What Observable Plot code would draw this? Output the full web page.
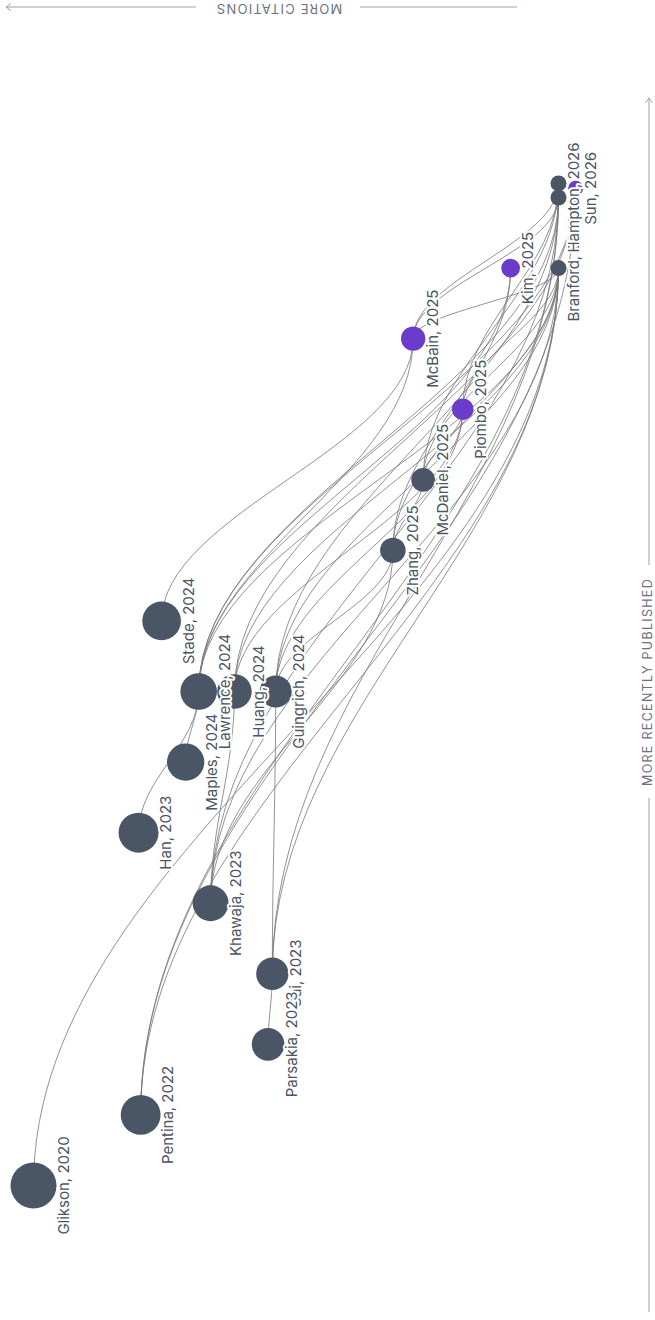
<!DOCTYPE html>
<html><head><meta charset="utf-8">
<script src="https://cdn.jsdelivr.net/npm/d3@7"></script>
<script src="https://cdn.jsdelivr.net/npm/@observablehq/plot@0.6"></script>
<style>
html,body{margin:0;padding:0;background:#fff;}
#chart{position:relative;width:655px;height:1320px;overflow:hidden;}
</style></head><body><div id="chart"></div>
<script>
// ---- data ----
const ids       = ["glikson","pentina","cai","parsakia","khawaja","han","maples","lawrence","huang","guingrich","stade","zhang","mcdaniel","piombo","mcbain","kim","branford","hampton","other26","sun"];
const authors   = ["Glikson","Pentina","Cai","Parsakia","Khawaja","Han","Maples","Lawrence","Huang","Guingrich","Stade","Zhang","McDaniel","Piombo","McBain","Kim","Branford","Hampton","","Sun"];
const years     = [2020,2022,2023,2023,2023,2023,2024,2024,2024,2024,2024,2025,2025,2025,2025,2025,2026,2026,2026,2026];
const pubOrder  = [0,1,3,2,4,5,6,7,7,7,8,9,10,11,12,13,13,14,14.2,14.13];
const citations = [2000,424,63,67,154,437,221,183,109,60,313,11,7.1,4,8.2,2,1,1,1,0.78];
const highlight = [0,0,0,0,0,0,0,0,0,0,0,0,0,1,1,1,0,0,0,1];
const edgeFrom  = ["parsakia","han","maples","khawaja","cai","stade","lawrence","guingrich","khawaja","zhang","huang","guingrich","mcdaniel","lawrence","zhang",
                   "glikson","pentina","pentina","pentina","cai","khawaja","lawrence","lawrence","huang","huang","guingrich","guingrich","zhang","mcdaniel","mcdaniel","piombo","piombo","mcbain","mcbain","mcbain","lawrence","khawaja","cai"];
const edgeTo    = ["cai","lawrence","lawrence","huang","guingrich","mcbain","mcbain","zhang","zhang","mcdaniel","piombo","piombo","piombo","kim","kim",
                   "branford","branford","hampton","sun","branford","branford","branford","hampton","branford","sun","branford","hampton","branford","branford","other26","branford","other26","branford","hampton","other26","sun","hampton","hampton"];

// ---- tables built from arrays ----
const nodes = ids.map((id, i) => ({
  id, label: authors[i] ? `${authors[i]}, ${years[i]}` : "",
  order: pubOrder[i], citations: citations[i], hl: highlight[i]
}));
const byId = new Map(nodes.map(d => [d.id, d]));
const edges = edgeFrom.map((s, i) => ({source: byId.get(s), target: byId.get(edgeTo[i])}));

// S-shaped link: vertical tangent at both ends
function sCurve(k) {
  return (context) => {
    let pts = [];
    return {
      areaStart() {}, areaEnd() {},
      lineStart() { pts = []; },
      point(x, y) { pts.push([x, y]); },
      lineEnd() {
        const [a, b] = pts;
        const dy = b[1] - a[1];
        context.moveTo(a[0], a[1]);
        context.bezierCurveTo(a[0], a[1] + k * dy, b[0], b[1] - k * dy, b[0], b[1]);
      }
    };
  };
}

const dark = "#4a5565", purple = "#6b3bc9";

const chart = Plot.plot({
  width: 655, height: 1320,
  marginLeft: 33, marginRight: 97, marginTop: 197, marginBottom: 135,
  x: {type: "log", domain: [2000, 1], axis: null},
  y: {domain: [0, 14], axis: null},
  r: {type: "log", domain: [1, 2000], range: [8, 23]},
  style: {fontFamily: "Inter, 'Noto Sans', sans-serif", background: "white"},
  marks: [
    Plot.link(edges, {
      x1: d => d.source.citations, y1: d => d.source.order,
      x2: d => d.target.citations, y2: d => d.target.order,
      curve: sCurve(0.38), stroke: "#777", strokeWidth: 0.85, strokeOpacity: 0.95
    }),
    Plot.dot(nodes, {x: "citations", y: "order", r: "citations", fill: d => d.hl ? purple : dark, stroke: "none"}),
    Plot.text(nodes, {
      x: "citations", y: "order", text: "label", rotate: -90,
      lineAnchor: "top", textAnchor: "middle", fontSize: 15, fill: "#4b5563",
      stroke: "white", strokeWidth: 4, paintOrder: "stroke",
      render(index, scales, values, dimensions, context, next) {
        const X = Float64Array.from(values.x, (x, i) => x + scales.r(nodes[i].citations) + 2);
        return next(index, scales, {...values, x: X}, dimensions, context);
      }
    })
  ]
});

document.getElementById("chart").append(chart);

// ---- axis annotations (rotated chart frame) ----
const svg = d3.select(chart);
const axisColor = "#98a3b3", axisText = "#6b7280";
const ann = svg.append("g").attr("fill", "none").attr("stroke", axisColor).attr("stroke-width", 1);
ann.append("line").attr("x1", 6).attr("x2", 196).attr("y1", 7).attr("y2", 7);
ann.append("path").attr("d", "M11,3.5L6,7L11,10.5");
ann.append("line").attr("x1", 360).attr("x2", 517).attr("y1", 7).attr("y2", 7);
svg.append("text").text("MORE CITATIONS")
  .attr("transform", "translate(279,8) rotate(180)")
  .attr("text-anchor", "middle").attr("dominant-baseline", "middle")
  .attr("font-size", 13).attr("letter-spacing", 1.2).attr("fill", axisText)
  .attr("font-family", "Inter, sans-serif");
ann.append("line").attr("x1", 649).attr("x2", 649).attr("y1", 98).attr("y2", 565);
ann.append("path").attr("d", "M645.5,103L649,98L652.5,103");
ann.append("line").attr("x1", 649).attr("x2", 649).attr("y1", 798).attr("y2", 1312);
svg.append("text").text("MORE RECENTLY PUBLISHED")
  .attr("transform", "translate(647.5,682) rotate(-90)")
  .attr("text-anchor", "middle").attr("dominant-baseline", "central")
  .attr("font-size", 12.5).attr("letter-spacing", 1.3).attr("fill", axisText)
  .attr("font-family", "Inter, sans-serif");
</script>
</body></html>
